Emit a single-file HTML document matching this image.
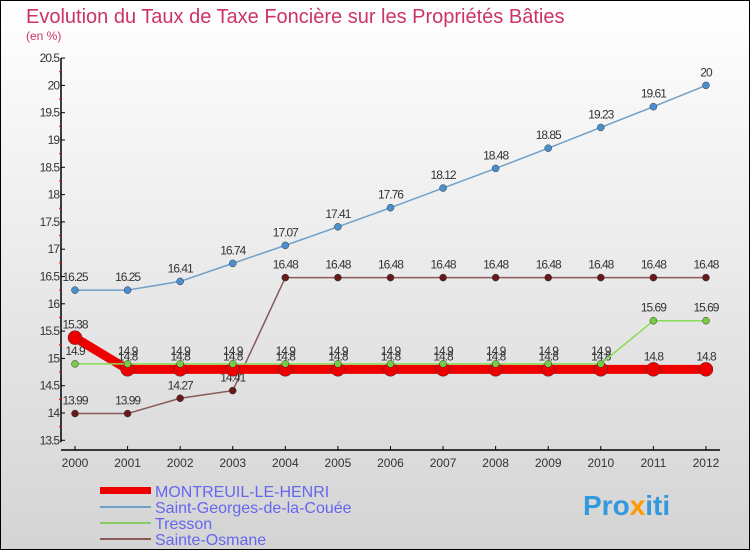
<!DOCTYPE html>
<html><head><meta charset="utf-8"><style>
body{margin:0}
svg{display:block;font-family:"Liberation Sans",sans-serif}
</style></head><body>
<svg id="c" width="750" height="550">
<defs><linearGradient id="bg" x1="0" y1="0" x2="0" y2="1"><stop offset="0" stop-color="#ffffff"/><stop offset="1" stop-color="#d4d4d4"/></linearGradient></defs>
<rect x="0.5" y="0.5" width="749" height="549" fill="url(#bg)" stroke="#000"/>
<text x="26" y="23" font-size="20" fill="#cc3366">Evolution du Taux de Taxe Foncière sur les Propriétés Bâties</text>
<text x="26" y="40" font-size="12" fill="#cc3366">(en %)</text>
<g id="g"></g>
<g>
<rect x="100" y="487" width="51" height="7" fill="#ee0000"/>
<rect x="100" y="506" width="51" height="2" fill="#6fa0c8"/>
<rect x="100" y="522" width="51" height="2" fill="#88cc66"/>
<rect x="100" y="538" width="51" height="2" fill="#8a5a5a"/>
<text x="155" y="497" font-size="16" fill="#6666ee">MONTREUIL-LE-HENRI</text>
<text x="155" y="513" font-size="16" fill="#6666ee">Saint-Georges-de-la-Couée</text>
<text x="155" y="529" font-size="16" fill="#6666ee">Tresson</text>
<text x="155" y="545" font-size="16" fill="#6666ee">Sainte-Osmane</text>
</g>
<text x="583" y="515" font-size="28" font-weight="bold" fill="#3399dd">Pro<tspan fill="#ff9900">x</tspan>iti</text>
</svg>
<script>
const years=[2000,2001,2002,2003,2004,2005,2006,2007,2008,2009,2010,2011,2012];
const yTicks=[13.5,14,14.5,15,15.5,16,16.5,17,17.5,18,18.5,19,19.5,20,20.5];
const montreuil=[15.38,14.8,14.8,14.8,14.8,14.8,14.8,14.8,14.8,14.8,14.8,14.8,14.8];
const saintGeorges=[16.25,16.25,16.41,16.74,17.07,17.41,17.76,18.12,18.48,18.85,19.23,19.61,20];
const tresson=[14.9,14.9,14.9,14.9,14.9,14.9,14.9,14.9,14.9,14.9,14.9,15.69,15.69];
const sainteOsmane=[13.99,13.99,14.27,14.41,16.48,16.48,16.48,16.48,16.48,16.48,16.48,16.48,16.48];
const NS='http://www.w3.org/2000/svg';
const g=document.getElementById('g');
const xs=i=>75+i*52.58;
const ys=v=>413-(v-14)*54.6;
function el(t,a,p){const e=document.createElementNS(NS,t);for(const k in a)e.setAttribute(k,a[k]);(p||g).appendChild(e);return e;}
const ya=el('line',{x1:61,y1:ys(20.5),x2:61,y2:ys(13.5)+2,stroke:'#000','stroke-width':1.5});


const xa=el('line',{x1:61,y1:450,x2:720,y2:450,stroke:'#000','stroke-width':1.5});


yTicks.forEach((v,k)=>{
 el('line',{x1:61,y1:ys(v),x2:65,y2:ys(v),stroke:'#000'});
 if(k<yTicks.length-1) el('line',{x1:59,y1:ys(v+0.25),x2:62,y2:ys(v+0.25),stroke:'#e00'});
 const t=el('text',{x:59,y:ys(v)+4,'font-size':12,fill:'#333','text-anchor':'end','letter-spacing':'-1'});
 t.textContent=String(v);
 
 
});
years.forEach((y,i)=>{
 el('line',{x1:xs(i),y1:446,x2:xs(i),y2:450,stroke:'#000'});
 const t=el('text',{x:xs(i),y:467,'font-size':12,fill:'#333','text-anchor':'middle'});
 t.textContent=y;
 
 
});
function series(vals,color,w,r,name,dot){
 const p=el('polyline',{points:vals.map((v,i)=>xs(i)+','+ys(v)).join(' '),fill:'none',stroke:color,'stroke-width':w,'stroke-linejoin':'round'});
 
 
 vals.forEach((v,i)=>{
  const c=el('circle',{cx:xs(i),cy:ys(v),r:r,fill:dot||color,stroke:'#333','stroke-width':0.5});
  
  
  const t=el('text',{x:xs(i),y:ys(v)-9,'font-size':12,fill:'#333','text-anchor':'middle','letter-spacing':'-1'});
  t.textContent=String(v);
  
  
 });
}
series(saintGeorges,'#6fa0c8',1.5,3.5,'saint-georges','#4a90d0');
series(sainteOsmane,'#8a5a5a',1.5,3.5,'sainte-osmane','#661a1a');
series(montreuil,'#ee0000',9,7,'montreuil','#ee0000');
series(tresson,'#88dd55',1.5,3.5,'tresson','#77cc44');
</script>
</body></html>
